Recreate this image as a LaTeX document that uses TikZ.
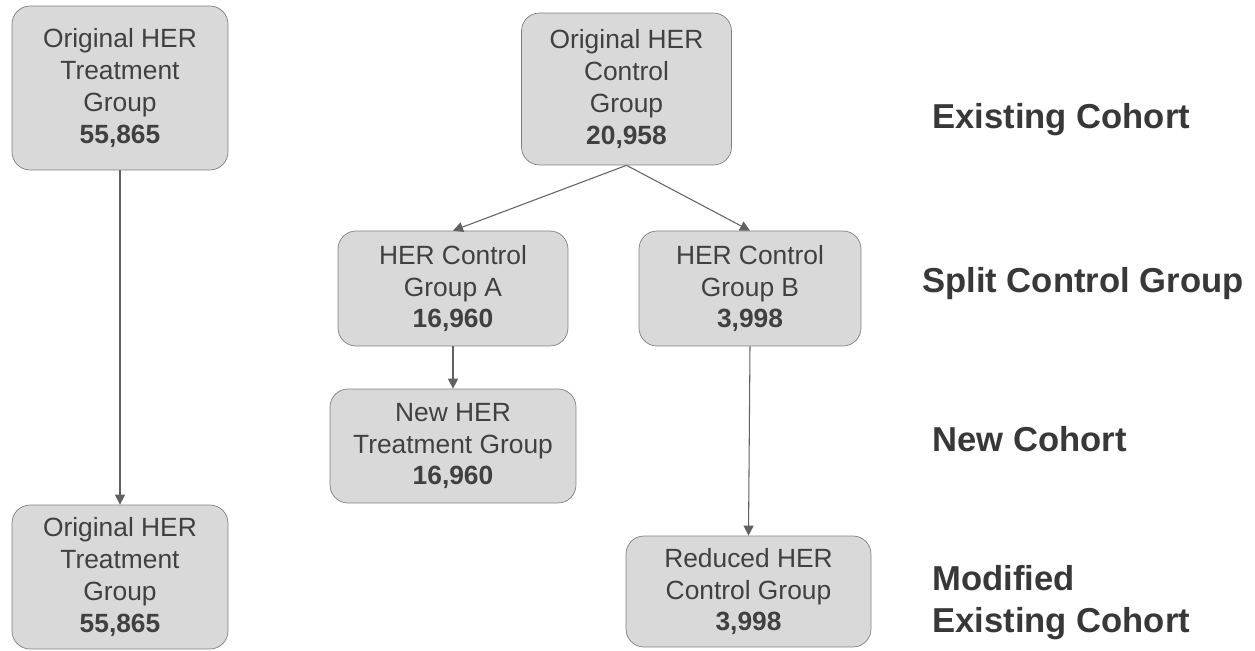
\documentclass[tikz,border=0pt]{standalone}
\usepackage{fontspec}
\setmainfont{Liberation Sans}
\usetikzlibrary{arrows.meta}
\usetikzlibrary{positioning}
\definecolor{boxfill}{HTML}{D9D9D9}
\definecolor{boxline}{HTML}{7F7F7F}
\definecolor{boxtext}{HTML}{404040}
\definecolor{lbltext}{HTML}{383838}
\tikzstyle{group}=[draw=boxline,fill=boxfill,rounded corners=0.36cm,align=center,text=boxtext,inner sep=0pt,font=\fontsize{15}{18.2}\selectfont]
\tikzstyle{flow} = [draw=black!62,semithick,-{Triangle[length=0.2cm,width=0.2cm]}]
\tikzstyle{stage} = [anchor=west,align=left,text=lbltext,inner sep=0pt,font=\fontsize{19.7}{23.8}\selectfont\bfseries]

\begin{document}
\begin{tikzpicture}[x=0.02cm,y=-0.02cm]
    \useasboundingbox (0,0) rectangle (1255,651);
    % First we draw the groups
    \foreach \pos/\name/\w/\h/\txt in {{(120,88)/orig/4.32/3.28/{Original HER\\Treatment\\Group\\\textbf{55,865}}},
        {(626.5,89)/ctrl/4.2/3.04/{Original HER\\Control\\Group\\\textbf{20,958}}},
        {(453,288.5)/ctrlA/4.6/2.3/{HER Control\\Group A\\\textbf{16,960}}},
        {(750,288.5)/ctrlB/4.44/2.3/{HER Control\\Group B\\\textbf{3,998}}},
        {(453,446)/newtreat/4.92/2.28/{New HER\\Treatment Group\\\textbf{16,960}}},
        {(748.5,591.5)/reduced/4.9/2.22/{Reduced HER\\Control Group\\\textbf{3,998}}},
        {(120,577)/origbot/4.32/2.88/{Original HER\\Treatment\\Group\\\textbf{55,865}}}}
        \node[group,minimum width=\w cm,minimum height=\h cm] (\name) at \pos {\txt};

    % Connect groups with arrows
    \foreach \source/\dest in {orig/origbot, ctrl/ctrlA, ctrl/ctrlB, ctrlA/newtreat, ctrlB/reduced}
        \path[flow] (\source.south) -- (\dest.north);

    % Stage labels on the right
    \node[stage] (existing) at (932,120) {Existing Cohort};
    \node[stage] (split) at (922,284) {Split Control Group};
    \node[stage] (newcohort) at (932,439) {New Cohort};
    \node[stage] (modified) at (932,603) {Modified\\Existing Cohort};
\end{tikzpicture}
\end{document}
